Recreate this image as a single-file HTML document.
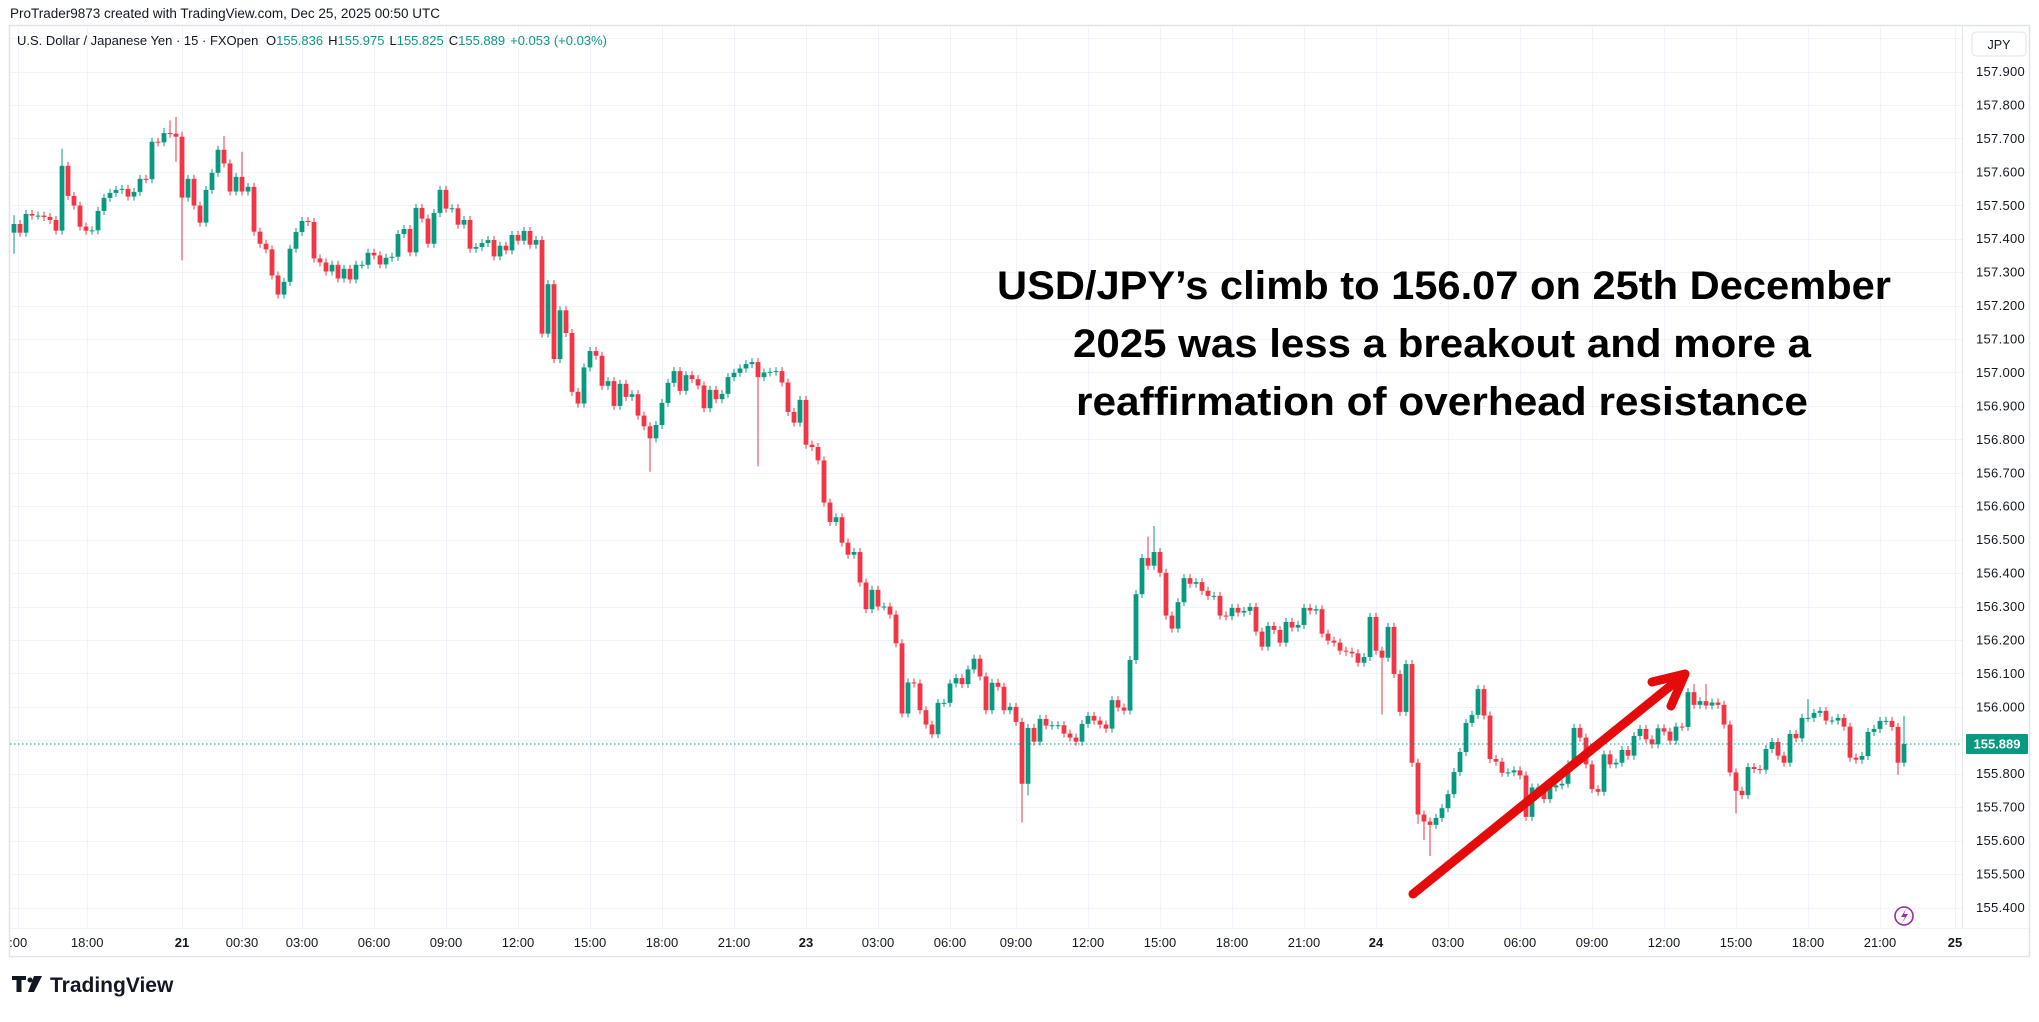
<!DOCTYPE html>
<html><head><meta charset="utf-8">
<style>
html,body{margin:0;padding:0;background:#fff;}
body{width:2039px;height:1017px;overflow:hidden;font-family:"Liberation Sans",Arial,sans-serif;}
svg text{font-family:"Liberation Sans",Arial,sans-serif;}
</style></head>
<body>
<svg id="chart" width="2039" height="1017" viewBox="0 0 2039 1017" xmlns="http://www.w3.org/2000/svg">
  <rect x="0" y="0" width="2039" height="1017" fill="#ffffff"/>
  <text x="10" y="18" font-size="13.5" fill="#131722">ProTrader9873 created with TradingView.com, Dec 25, 2025 00:50 UTC</text>
  <rect x="9.5" y="25.5" width="2020" height="931" fill="none" stroke="#e0e3eb" stroke-width="1.5"/>
  <g id="grid"></g>
  <line x1="1962.5" y1="26" x2="1962.5" y2="928" stroke="#e0e3eb" stroke-width="1"/>
  <line x1="10" y1="928.5" x2="2029" y2="928.5" stroke="#f0f3fa" stroke-width="1"/>
  <g id="candles"></g>
  <g id="yaxis"></g>
  <g id="xaxis"></g>
  <line id="lastline" x1="10" x2="1962" stroke="#089981" stroke-width="1" stroke-dasharray="1.5,2.5"/>
  <g>
    <rect id="lastbox" x="1966" width="62" height="20" rx="1" fill="#089981"/>
    <text id="lasttext" x="1997" font-size="13" font-weight="bold" fill="#fff" text-anchor="middle"></text>
  </g>
  <g>
    <rect x="1972" y="32" width="54" height="24" rx="4" fill="#fff" stroke="#e0e3eb"/>
    <text x="1999" y="49" font-size="12.5" fill="#131722" text-anchor="middle">JPY</text>
  </g>
  <text x="17" y="45" font-size="13" fill="#131722">U.S. Dollar / Japanese Yen · 15 · FXOpen <tspan dx="4">O</tspan><tspan fill="#089981">155.836</tspan><tspan dx="5">H</tspan><tspan fill="#089981">155.975</tspan><tspan dx="5">L</tspan><tspan fill="#089981">155.825</tspan><tspan dx="5">C</tspan><tspan fill="#089981">155.889</tspan><tspan dx="5" fill="#089981">+0.053 (+0.03%)</tspan></text>
  <g font-weight="bold" fill="#000" text-anchor="middle">
    <text x="1444" y="299" font-size="40" textLength="894" lengthAdjust="spacingAndGlyphs">USD/JPY’s climb to 156.07 on 25th December</text>
    <text x="1442" y="357" font-size="40" textLength="738" lengthAdjust="spacingAndGlyphs">2025 was less a breakout and more a</text>
    <text x="1442" y="415" font-size="40" textLength="732" lengthAdjust="spacingAndGlyphs">reaffirmation of overhead resistance</text>
  </g>
  <g stroke="#e60b0b" stroke-width="9" stroke-linecap="round" stroke-linejoin="round" fill="none">
    <line x1="1413" y1="894" x2="1684" y2="675"/>
    <polyline points="1652,682 1685,674 1671,706"/>
  </g>
  <g>
    <circle cx="1904" cy="916" r="9" fill="#fff" stroke="#9c27b0" stroke-width="1.6"/>
    <path d="M1906,909 L1901,917 L1905,917 L1902,923 L1908,914 L1904,914 Z" fill="#9c27b0"/>
  </g>
  <g>
    <path d="M12,976 h14 v4 h-4.5 v12 h-5 v-12 h-4.5 Z" fill="#131722"/>
    <circle cx="30" cy="980" r="2.5" fill="#131722"/>
    <path d="M34,976 h8 l-8,16 h-6 Z" fill="#131722"/>
    <text x="50" y="992" font-size="21" font-weight="bold" fill="#131722">TradingView</text>
  </g>
</svg>
<script>
const closes = [
157.444,157.418,157.474,157.469,157.469,157.465,157.456,157.424,157.618,157.528,
157.499,157.436,157.424,157.425,157.483,157.522,157.537,157.546,157.549,157.526,
157.540,157.579,157.578,157.690,157.688,157.716,157.714,157.705,157.523,157.579,
157.499,157.448,157.546,157.597,157.666,157.625,157.541,157.585,157.541,157.555,
157.421,157.385,157.368,157.290,157.233,157.271,157.370,157.420,157.453,157.450,
157.341,157.329,157.302,157.322,157.281,157.310,157.278,157.322,157.322,157.358,
157.350,157.323,157.343,157.346,157.414,157.429,157.359,157.492,157.460,157.385,
157.477,157.546,157.490,157.491,157.442,157.456,157.370,157.375,157.387,157.396,
157.347,157.379,157.365,157.411,157.394,157.423,157.382,157.396,
157.116,157.264,157.040,157.186,157.118,156.942,156.907,157.015,157.064,157.050,
156.960,156.974,156.900,156.966,156.927,156.935,156.871,156.839,156.803,156.843,
156.909,156.969,157.004,156.945,156.992,156.980,156.961,156.893,156.948,156.920,
156.936,156.986,156.999,157.012,157.025,157.031,156.986,157.000,157.002,157.004,
156.970,156.882,156.850,156.918,156.784,156.777,156.737,156.611,156.553,156.567,
156.491,156.455,156.463,156.372,156.292,156.350,156.300,156.300,156.276,156.190,
155.980,156.073,156.070,155.990,155.947,155.918,156.012,156.012,156.070,156.086,
156.068,156.112,156.144,156.091,155.990,156.072,156.060,155.990,156.000,155.955,
155.770,155.937,155.896,155.964,155.944,155.945,155.945,155.920,155.908,155.896,
155.949,155.973,155.959,155.947,155.935,156.020,155.998,155.989,156.140,156.337,
156.445,156.422,156.463,156.401,156.273,156.234,156.313,156.385,156.368,156.373,
156.347,156.332,156.332,156.273,156.271,156.296,156.282,156.287,156.299,156.225,
156.180,156.242,156.230,156.192,156.254,156.237,156.245,156.296,156.288,156.292,
156.219,156.198,156.192,156.168,156.165,156.160,156.132,156.149,156.269,156.168,
156.147,156.239,156.098,155.985,156.128,155.833,155.678,155.657,155.647,155.668,
155.697,155.739,155.805,155.865,155.952,155.976,156.053,
155.974,155.844,155.836,155.803,155.804,155.810,155.795,155.671,155.759,155.759,
155.724,155.759,155.765,155.770,155.828,155.937,155.908,155.828,155.754,155.746,
155.858,155.828,155.833,155.871,155.854,155.913,155.934,155.903,155.888,155.936,
155.926,155.899,155.941,155.940,156.044,156.006,156.017,156.004,156.013,156.006,
155.947,155.804,155.749,155.736,155.820,155.814,155.812,155.874,155.895,155.854,
155.833,155.919,155.906,155.967,155.967,155.982,155.988,155.959,155.959,155.967,
155.941,155.848,155.842,155.853,155.925,155.934,155.958,155.958,155.940,155.833,
155.889
];
const firstOpen = 157.418;
const spikeIdx  = [1, 9, 26, 27, 28, 29, 36, 39, 107, 125, 169, 170, 190, 191, 229, 235, 236, 237, 281, 283, 288, 300, 315, 316];
const spikeHigh = [157.47, 157.669, 157.731, 157.754, 157.764, 157.72, 157.707, 157.66, null, null, null, null, 156.509, 156.541, null, null, null, null, 156.068, 156.068, null, 156.023, null, 155.973];
const spikeLow  = [157.355, null, null, null, 157.63, 157.335, null, null, 156.703, 156.719, 155.654, 155.735, null, null, 155.977, 155.65, 155.602, 155.554, null, null, 155.681, null, 155.797, null];
const priceTicks = [158.0,157.9,157.8,157.7,157.6,157.5,157.4,157.3,157.2,157.1,157.0,156.9,156.8,156.7,156.6,156.5,156.4,156.3,156.2,156.1,156.0,155.9,155.8,155.7,155.6,155.5,155.4,155.3];
const timeLabels = [":00","18:00","21","00:30","03:00","06:00","09:00","12:00","15:00","18:00","21:00","23","03:00","06:00","09:00","12:00","15:00","18:00","21:00","24","03:00","06:00","09:00","12:00","15:00","18:00","21:00","25"];
const timeIdx = [1.7,13.2,29,39,49,61,73,85,97,109,121,133,145,157,168,180,192,204,216,228,240,252,264,276,288,300,312,324.5];
const lastPrice = 155.889;

const NS = "http://www.w3.org/2000/svg";
function yScale(p){ return 71.5 + (157.9 - p) * 334.4; }
function xScale(i){ return 14 + (i - 1) * 6; }
function mk(tag, attrs, parent){ const e=document.createElementNS(NS,tag); for(const k in attrs) e.setAttribute(k,attrs[k]); parent.appendChild(e); return e; }

const grid = document.getElementById('grid');
priceTicks.forEach(p=>{
  const y = Math.round(yScale(p))+0.5;
  if (y < 27 || y > 928) return;
  const l = mk('line',{x1:10,x2:1962,y1:y,y2:y,stroke:'#f0f3fa','stroke-width':1},grid);
  
  
});
timeIdx.forEach(t=>{
  const x = Math.round(xScale(t))+0.5;
  const l = mk('line',{x1:x,x2:x,y1:27,y2:928,stroke:'#f0f3fa','stroke-width':1},grid);
  
  
});

const yaxis = document.getElementById('yaxis');
priceTicks.forEach(p=>{
  const y = yScale(p);
  if (y < 60 || y > 920) return;
  const t = mk('text',{x:1976,y:y+4.5,'font-size':13,fill:'#131722','letter-spacing':'0.3'},yaxis);
  
  
  t.textContent = p.toFixed(3);
});

const xaxis = document.getElementById('xaxis');
timeLabels.forEach((lab,k)=>{
  const t = mk('text',{x:xScale(timeIdx[k]),y:947,'font-size':13,fill:'#131722','text-anchor':'middle'},xaxis);
  if (!lab.includes(':')) t.setAttribute('font-weight','bold');
  
  
  t.textContent = lab;
});

const cg = document.getElementById('candles');
for (let n=0;n<closes.length;n++){
  const i = n+1;
  const o = n===0 ? firstOpen : closes[n-1];
  const c = closes[n];
  let hi = Math.max(o,c)+0.012, lo = Math.min(o,c)-0.012;
  const s = spikeIdx.indexOf(i);
  if (s>=0){ if(spikeHigh[s]!==null) hi=spikeHigh[s]; if(spikeLow[s]!==null) lo=spikeLow[s]; }
  const up = c >= o;
  const col = up ? '#089981' : '#f23645';
  const x = xScale(i);
  const g = mk('g',{},cg);
  
  
  mk('line',{x1:x,x2:x,y1:yScale(hi),y2:yScale(lo),stroke:col,'stroke-width':1},g);
  const top = yScale(Math.max(o,c)), bot = yScale(Math.min(o,c));
  mk('rect',{x:x-2.4,y:top,width:4.8,height:Math.max(1,bot-top),fill:col},g);
}

const ly = yScale(lastPrice);
const ll = document.getElementById('lastline');
ll.setAttribute('y1',ly); ll.setAttribute('y2',ly);
document.getElementById('lastbox').setAttribute('y',ly-10);
const lt = document.getElementById('lasttext');
lt.setAttribute('y',ly+4.5);
lt.textContent = lastPrice.toFixed(3);
</script>
</body></html>
